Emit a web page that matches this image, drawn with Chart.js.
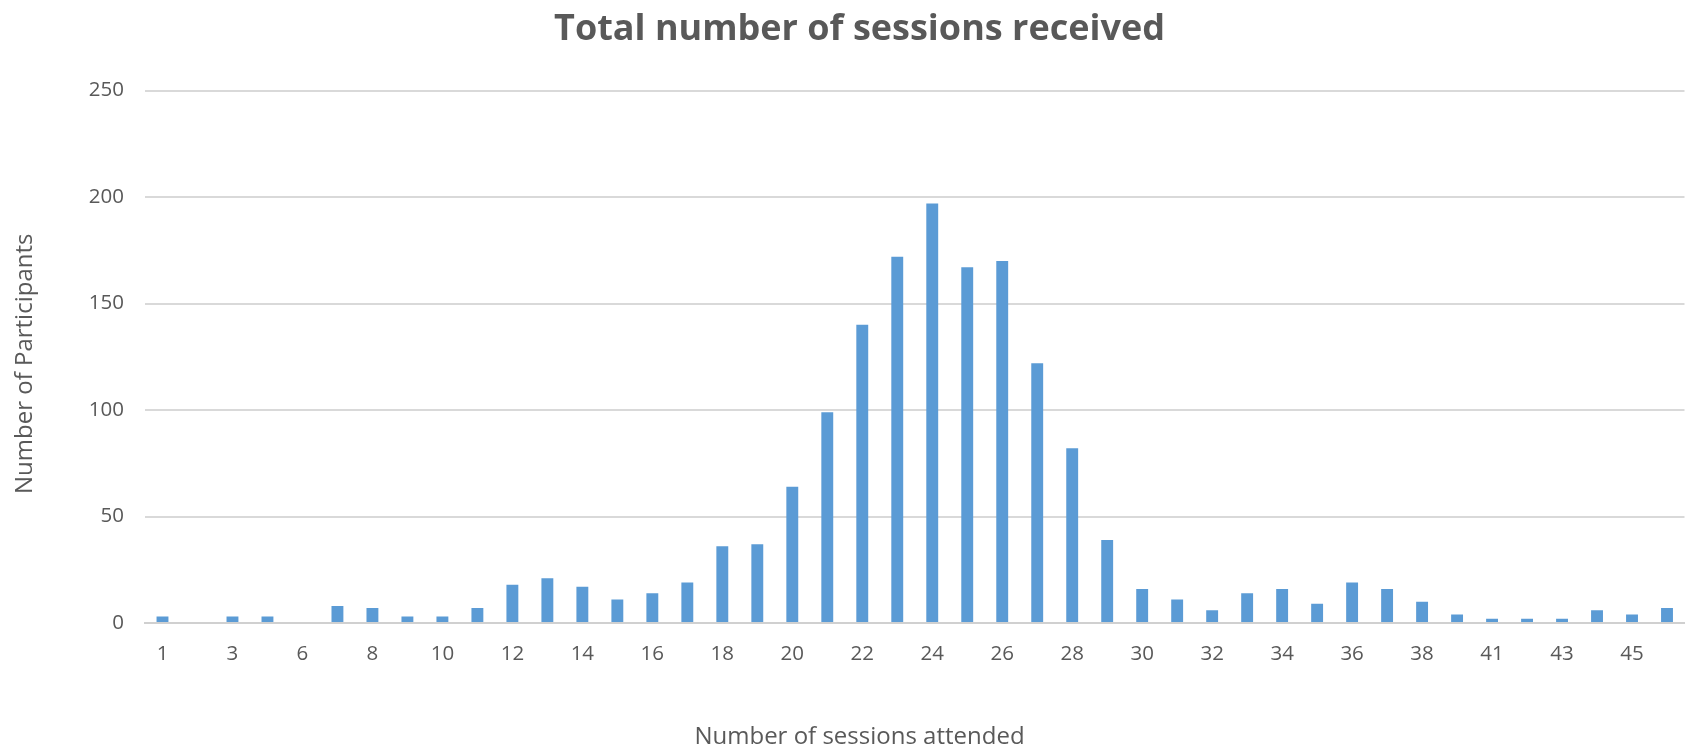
<!DOCTYPE html>
<html>
<head>
<meta charset="utf-8">
<title>Total number of sessions received</title>
<script src="https://cdn.jsdelivr.net/npm/chart.js@4"></script>
<style>
  html, body { margin: 0; padding: 0; background: #ffffff; }
  #chart { display: block; }
</style>
</head>
<body>
<canvas id="chart" width="1687" height="750"></canvas>
<script>
// Number of sessions attended (category axis)
const sessions = [
  '1', '2', '3', '4', '6', '7', '8', '9', '10', '11',
  '12', '13', '14', '15', '16', '17', '18', '19', '20', '21',
  '22', '23', '24', '25', '26', '27', '28', '29', '30', '31',
  '32', '33', '34', '35', '36', '37', '38', '39', '41', '42',
  '43', '44', '45', '46'
];

// Number of participants for each session count
const participants = [
  3, 0, 3, 3, 0, 8, 7, 3, 3, 7,
  18, 21, 17, 11, 14, 19, 36, 37, 64, 99,
  140, 172, 197, 167, 170, 122, 82, 39, 16, 11,
  6, 14, 16, 9, 19, 16, 10, 4, 2, 2,
  2, 6, 4, 7
];

// Value axis ticks
const yTicks = [0, 50, 100, 150, 200, 250];

const chartTitle = 'Total number of sessions received';
const xTitle = 'Number of sessions attended';
const yTitle = 'Number of Participants';

const textColor = '#595959';
const gridColor = '#D9D9D9';
const barColor = '#5B9BD5';
const baseFont = "'Open Sans', 'DejaVu Sans', sans-serif";

// Chart heading and both axis captions, placed relative to the whole chart
// (the heading and category caption sit a little right of the canvas middle).
const headings = {
  id: 'headings',
  afterDraw(chart) {
    const ctx = chart.ctx;
    const area = chart.chartArea;
    const cx = chart.width / 2 + 16;
    ctx.save();
    ctx.fillStyle = textColor;
    ctx.textAlign = 'center';
    ctx.textBaseline = 'middle';
    ctx.font = 'bold 36px ' + baseFont;
    ctx.fillText(chartTitle, cx, 30);
    ctx.font = '24px ' + baseFont;
    ctx.fillText(xTitle, cx, chart.height - 13);
    ctx.translate(25, (area.top + area.bottom) / 2 + 7);
    ctx.rotate(-Math.PI / 2);
    ctx.fillText(yTitle, 0, 0);
    ctx.restore();
  }
};

new Chart(document.getElementById('chart'), {
  type: 'bar',
  data: {
    labels: sessions,
    datasets: [{
      data: participants,
      backgroundColor: barColor,
      borderWidth: 0,
      categoryPercentage: 1.0,
      barPercentage: 0.34
    }]
  },
  plugins: [headings],
  options: {
    responsive: false,
    animation: false,
    devicePixelRatio: 1,
    layout: { padding: { left: 0, right: 2.5, top: 90.5, bottom: 0 } },
    plugins: {
      legend: { display: false },
      tooltip: { enabled: false },
      title: { display: false }
    },
    scales: {
      x: {
        grid: { display: false, drawTicks: false },
        border: { display: true, color: '#D0D0D0', width: 2 },
        ticks: {
          color: textColor,
          font: { family: baseFont, size: 20.5, lineHeight: 1.2 },
          padding: 19,
          autoSkip: false,
          maxRotation: 0,
          minRotation: 0,
          callback: function (value, index) {
            return index % 2 === 0 ? sessions[index] : '';
          }
        },
        afterFit: function (scale) { scale.height = 127; }
      },
      y: {
        min: yTicks[0],
        max: yTicks[yTicks.length - 1],
        afterBuildTicks: function (scale) {
          scale.ticks = yTicks.map(function (v) { return { value: v }; });
        },
        grid: { color: gridColor, lineWidth: 2, drawTicks: false },
        border: { display: false },
        ticks: {
          color: textColor,
          font: { family: baseFont, size: 20.5, lineHeight: 1.2 },
          padding: 21
        },
        afterFit: function (scale) { scale.width = 145; }
      }
    }
  }
});
</script>
</body>
</html>
